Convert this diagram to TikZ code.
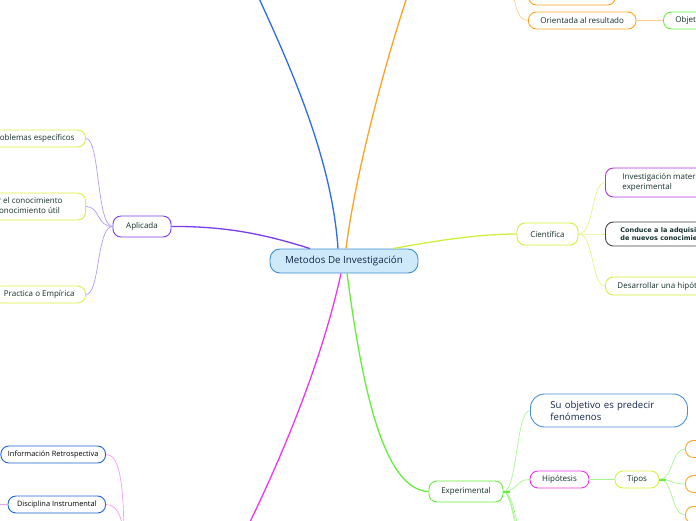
\documentclass[tikz,border=0pt]{standalone}
\usepackage{fontspec}
\setmainfont{Open Sans}
\newfontfamily\verdfont{DejaVu Sans}
\usepackage{xcolor}
\usetikzlibrary{positioning}
\definecolor{txt}{HTML}{13302B}
\definecolor{navy}{HTML}{14254A}
\definecolor{rootfill}{HTML}{CDE9FA}
\definecolor{rootline}{HTML}{3D8FD1}
\definecolor{mblue}{HTML}{2B6CF0}
\definecolor{morange}{HTML}{FFA21F}
\definecolor{lorange}{HTML}{FFCF8A}
\definecolor{mpurple}{HTML}{7A3CF0}
\definecolor{lpurple}{HTML}{B898F5}
\definecolor{myellow}{HTML}{CDF03A}
\definecolor{lyellow}{HTML}{E4F58A}
\definecolor{mgreen}{HTML}{66EE3C}
\definecolor{lgreen}{HTML}{A8F590}
\definecolor{mmagenta}{HTML}{EE35EE}
\definecolor{lmagenta}{HTML}{F59CF5}
\definecolor{violet}{HTML}{B030E0}
\definecolor{dgray}{HTML}{444444}
\definecolor{rblue}{HTML}{1C63D9}
\definecolor{pblue}{HTML}{4A90D9}
\definecolor{tyellow}{HTML}{DDF03E}
\begin{document}
\begin{tikzpicture}[x=1pt, y=-1pt,
  topic/.style={draw, rounded corners=8pt, line width=0.9pt, fill=white, text=txt,
    font=\fontsize{8}{9.5}\selectfont, inner sep=0pt, minimum height=17},
  branch/.style={line width=1.3pt},
  twig/.style={line width=0.7pt}]
\useasboundingbox (0,0) rectangle (696,520);
\clip (0,0) rectangle (696,520);
\node[topic, draw=rootline, fill=rootfill, minimum width=148, minimum height=24,
  rounded corners=10pt, font=\fontsize{9.8}{11}\selectfont, text=navy] (root) at (344,261) {Metodos De Investigación};
\node[topic, draw=mpurple, minimum width=58, minimum height=21] (aplicada) at (142,226.5) {Aplicada};
\node[topic, draw=tyellow, anchor=east, inner xsep=11] (resolver) at (86,138.5) {Resolver problemas específicos};
\node[topic, draw=tyellow, anchor=east, inner xsep=23, minimum height=27, align=left] (conocer) at (86,206.5) {Permite utilizar el conocimiento\\para obtener conocimiento útil};
\node[topic, draw=tyellow, anchor=east, inner xsep=11] (practica) at (86,294.5) {Practica o Empírica};
\node[topic, draw=myellow, minimum width=61, minimum height=22] (cientifica) at (547.5,234) {Científica};
\node[topic, draw=violet, anchor=west, inner xsep=17, minimum height=29, align=left] (materia) at (605,182.5) {Investigación materialista\\experimental};
\node[topic, draw=dgray, anchor=west, inner xsep=15, minimum height=24, align=left,
  font=\verdfont\bfseries\fontsize{6.5}{7.5}\selectfont] (conduce) at (605,234) {Conduce a la adquisición\\de nuevos conocimientos};
\node[topic, draw=myellow, anchor=west, inner xsep=12, minimum height=18] (hipodes) at (605,286) {Desarrollar una hipótesis};
\node[topic, draw=mgreen, minimum width=74, minimum height=21] (experimental) at (466,491.5) {Experimental};
\node[topic, draw=pblue, anchor=west, text width=117, inner xsep=20, minimum height=33, rounded corners=14pt,
  align=left, text=navy, font=\fontsize{9.6}{12}\selectfont] (predecir) at (530,410.5) {Su objetivo es predecir\\fenómenos};
\node[topic, draw=mmagenta, minimum width=59] (hipotesis) at (559.5,479.5) {Hipótesis};
\node[topic, draw=tyellow, minimum width=44] (tipos) at (637,479.5) {Tipos};
\node[topic, draw=morange, anchor=west, minimum width=40] (tipoa) at (685,449) {};
\node[topic, draw=morange, anchor=west, minimum width=40] (tipob) at (685,484) {};
\node[topic, draw=morange, anchor=west, minimum width=40] (tipoc) at (685,515) {};
\node[topic, draw=rblue, anchor=east, inner xsep=7, text=black, font=\fontsize{7.4}{9}\selectfont] (retro) at (106,454.5) {Información Retrospectiva};
\node[topic, draw=rblue, anchor=east, inner xsep=9, text=black, font=\fontsize{7.4}{9}\selectfont] (disciplina) at (106,504.5) {Disciplina Instrumental};
\node[topic, draw=morange, anchor=west, minimum width=87] (realidad) at (528,-3.5) {Realidad estática};
\node[topic, draw=morange, anchor=west, inner xsep=12] (orientada) at (528,20.5) {Orientada al resultado};
\node[topic, draw=mgreen, anchor=west, inner xsep=12] (objetiva) at (663,20.5) {Objetiva};
\coordinate (topblue) at (257,-6);
\coordinate (toporange) at (408,-6);
\coordinate (botmagenta) at (248,526);
\coordinate (toporient) at (512,-40);
\coordinate (botdisc) at (124,545);
\coordinate (expa) at (532,560);
\coordinate (expb) at (536,600);
\coordinate (expc) at (540,640);
\draw[branch, mblue] ([xshift=-6]root.north) .. controls (332,160) and (292,70) .. (topblue);
\draw[branch, morange] ([xshift=2]root.north) .. controls (356,170) and (386,60) .. (toporange);
\draw[branch, mpurple] ([xshift=-34]root.north) .. controls (270,236) and (230,226) .. (aplicada.east);
\draw[branch, myellow] ([xshift=49]root.north) .. controls (440,240) and (480,234) .. (cientifica.west);
\draw[branch, mgreen] ([xshift=3]root.south) .. controls (360,370) and (380,490) .. (experimental.west);
\draw[branch, mmagenta] ([xshift=-3]root.south) .. controls (322,360) and (285,450) .. (botmagenta);
\foreach \n in {resolver, conocer, practica}
  \draw[twig, lpurple] (aplicada.west) .. controls +(-16,0) and +(14,0) .. (\n.east);
\foreach \n in {materia, conduce, hipodes}
  \draw[twig, lyellow] (cientifica.east) .. controls +(16,0) and +(-14,0) .. (\n.west);
\foreach \n in {predecir.west, hipotesis.west, expa, expb, expc}
  \draw[twig, lgreen] (experimental.east) .. controls +(14,0) and +(-14,0) .. (\n);
\foreach \n in {tipoa, tipob, tipoc}
  \draw[twig, lgreen] (tipos.east) .. controls +(14,0) and +(-14,0) .. (\n.west);
\draw[line width=1.6pt, lgreen] (hipotesis) -- (tipos);
\draw[line width=2pt, mgreen] (experimental.east) -- +(7,0);
\draw[line width=2pt, mgreen] (tipos.east) -- +(7,0);
\foreach \n in {realidad, orientada}
  \draw[twig, lorange] (toporient) .. controls +(0,30) and +(-14,0) .. (\n.west);
\draw[twig, lorange] (orientada) -- (objetiva);
\draw[twig, lmagenta] (retro.east) .. controls +(14,0) and +(0,-60) .. (botdisc);
\draw[twig, lmagenta] (disciplina.east) .. controls +(14,0) and +(0,-20) .. (botdisc);
\draw[twig, lmagenta] (disciplina.west) -- +(-12,0);
\end{tikzpicture}
\end{document}
